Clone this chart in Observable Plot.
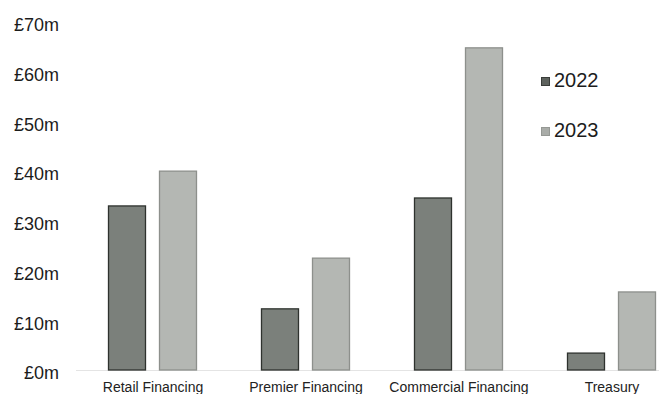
<!DOCTYPE html>
<html>
<head>
<meta charset="utf-8">
<script src="https://cdn.jsdelivr.net/npm/d3@7"></script>
<script src="https://cdn.jsdelivr.net/npm/@observablehq/plot@0.6"></script>
<style>
  html, body { margin: 0; padding: 0; background: #fff; }
  #wrap { position: relative; width: 659px; height: 394px; overflow: hidden; font-family: "Liberation Sans", Arial, sans-serif; }
  #wrap svg { overflow: visible; }
  .leg { position: absolute; font-size: 20px; line-height: 20px; color: #1c1c1c; white-space: nowrap; }
  .sw { position: absolute; width: 7px; height: 7px; }
</style>
</head>
<body>
<div id="wrap"></div>
<script>
const categories = ["Retail Financing", "Premier Financing", "Commercial Financing", "Treasury"];
const years = ["2022", "2023"];
const values2022 = [33, 12.3, 34.6, 3.4];
const values2023 = [40, 22.5, 64.8, 15.7];
const yTicks = [0, 10, 20, 30, 40, 50, 60, 70];
const yTickLabels = ["£0m", "£10m", "£20m", "£30m", "£40m", "£50m", "£60m", "£70m"];

const fills = {"2022": "#7b807b", "2023": "#b4b7b3"};
const strokes = {"2022": "#2e322e", "2023": "#8d908c"};

const data = [];
categories.forEach((c, i) => {
  data.push({category: c, year: years[0], value: values2022[i]});
  data.push({category: c, year: years[1], value: values2023[i]});
});

const chart = Plot.plot({
  width: 659,
  height: 394,
  marginLeft: 74.5,
  marginRight: -29.5,
  marginTop: 22,
  marginBottom: 24,
  style: {fontFamily: "'Liberation Sans', Arial, sans-serif", background: "#fff", overflow: "visible"},
  fx: {domain: categories, padding: 0, label: null},
  x: {domain: years, paddingInner: 0.279, paddingOuter: 0.6155, axis: null},
  y: {domain: [0, 70], label: null},
  marks: [
    Plot.ruleY([0], {stroke: "#e4e4e4", strokeWidth: 1}),
    Plot.barY(data, {
      fx: "category",
      x: "year",
      y: "value",
      fill: d => fills[d.year],
      stroke: d => strokes[d.year],
      strokeWidth: 1.3
    }),
    Plot.axisY(yTicks, {
      tickSize: 0,
      tickPadding: 17.5,
      tickFormat: (d) => yTickLabels[yTicks.indexOf(d)],
      fontSize: 18,
      fill: "#1c1c1c",
      dy: 3,
      label: null
    }),
    Plot.axisFx({
      anchor: "bottom",
      tickSize: 0,
      tickPadding: 12,
      fontSize: 14,
      fill: "#222",
      label: null
    })
  ]
});

const wrap = document.getElementById("wrap");
wrap.appendChild(chart);

// Legend (HTML overlay)
const legendTops = [69.8, 120.1];
years.forEach((y, i) => {
  const sw = document.createElement("div");
  sw.className = "sw";
  sw.style.left = "541px";
  sw.style.top = (legendTops[i] + 7) + "px";
  sw.style.background = i === 0 ? "#5d625d" : "#a9aca8";
  sw.style.border = "0.5px solid " + (i === 0 ? "#3a3d3a" : "#959894");
  wrap.appendChild(sw);
  const t = document.createElement("div");
  t.className = "leg";
  t.style.left = "554px";
  t.style.top = legendTops[i] + "px";
  t.textContent = y;
  wrap.appendChild(t);
});
</script>
</body>
</html>
